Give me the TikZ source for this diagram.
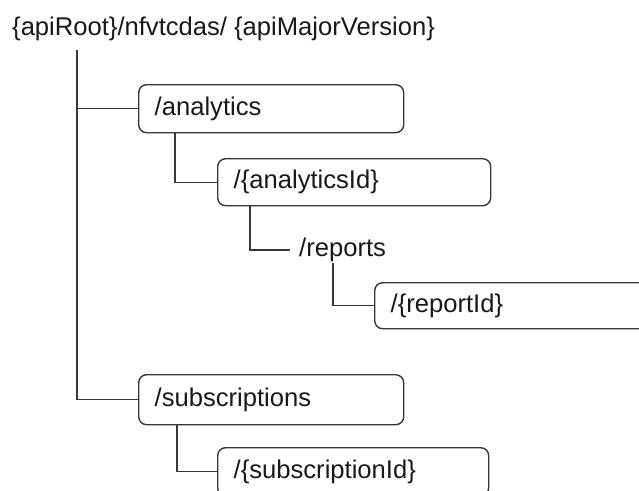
\documentclass[tikz,border=0pt]{standalone}
\usepackage{fontspec}
\setmainfont{Liberation Sans}
\begin{document}
\begin{tikzpicture}[x=1pt,y=-1pt,
  line/.style={draw=black!78, line width=1.4pt},
  box/.style={line, rounded corners=8, inner xsep=16, inner ysep=0, align=left,
    minimum height=48, anchor=north west, text=black!90,
    font=\fontsize{25.6}{30}\selectfont},
  plain/.style={inner ysep=0, anchor=west, text=black!90,
    font=\fontsize{25.6}{30}\selectfont}]
\useasboundingbox (0,0) rectangle (639,490);
\clip (0,0) rectangle (639,490);
\node[plain, inner xsep=0, anchor=base west] (title) at (12,35) {\{apiRoot\}/nfvtcdas/ \{apiMajorVersion\}};
\coordinate (rootdown) at (77,50);
\node[box, text width=233] (analytics) at (138,84) {/analytics};
\node[box, text width=241, minimum height=47] (aid) at (217,158) {/\{analyticsId\}};
\node[plain, inner xsep=9, minimum height=26] (reports) at (290,250) {/reports};
\node[box, text width=254, minimum height=46] (rid) at (374,282) {/\{reportId\}};
\node[box, text width=233, minimum height=50] (subs) at (138,374) {/subscriptions};
\node[box, text width=239] (sid) at (217,447) {/\{subscriptionId\}};
\draw[line] (rootdown) |- (analytics.west);
\draw[line] (rootdown) |- (subs.west);
\draw[line] ([xshift=37]analytics.south west) |- (aid.west);
\draw[line] ([xshift=33]aid.south west) |- (reports.west);
\draw[line] ([xshift=43]reports.south west) |- (rid.west);
\draw[line] ([xshift=39]subs.south west) |- (sid.west);
\end{tikzpicture}
\end{document}
